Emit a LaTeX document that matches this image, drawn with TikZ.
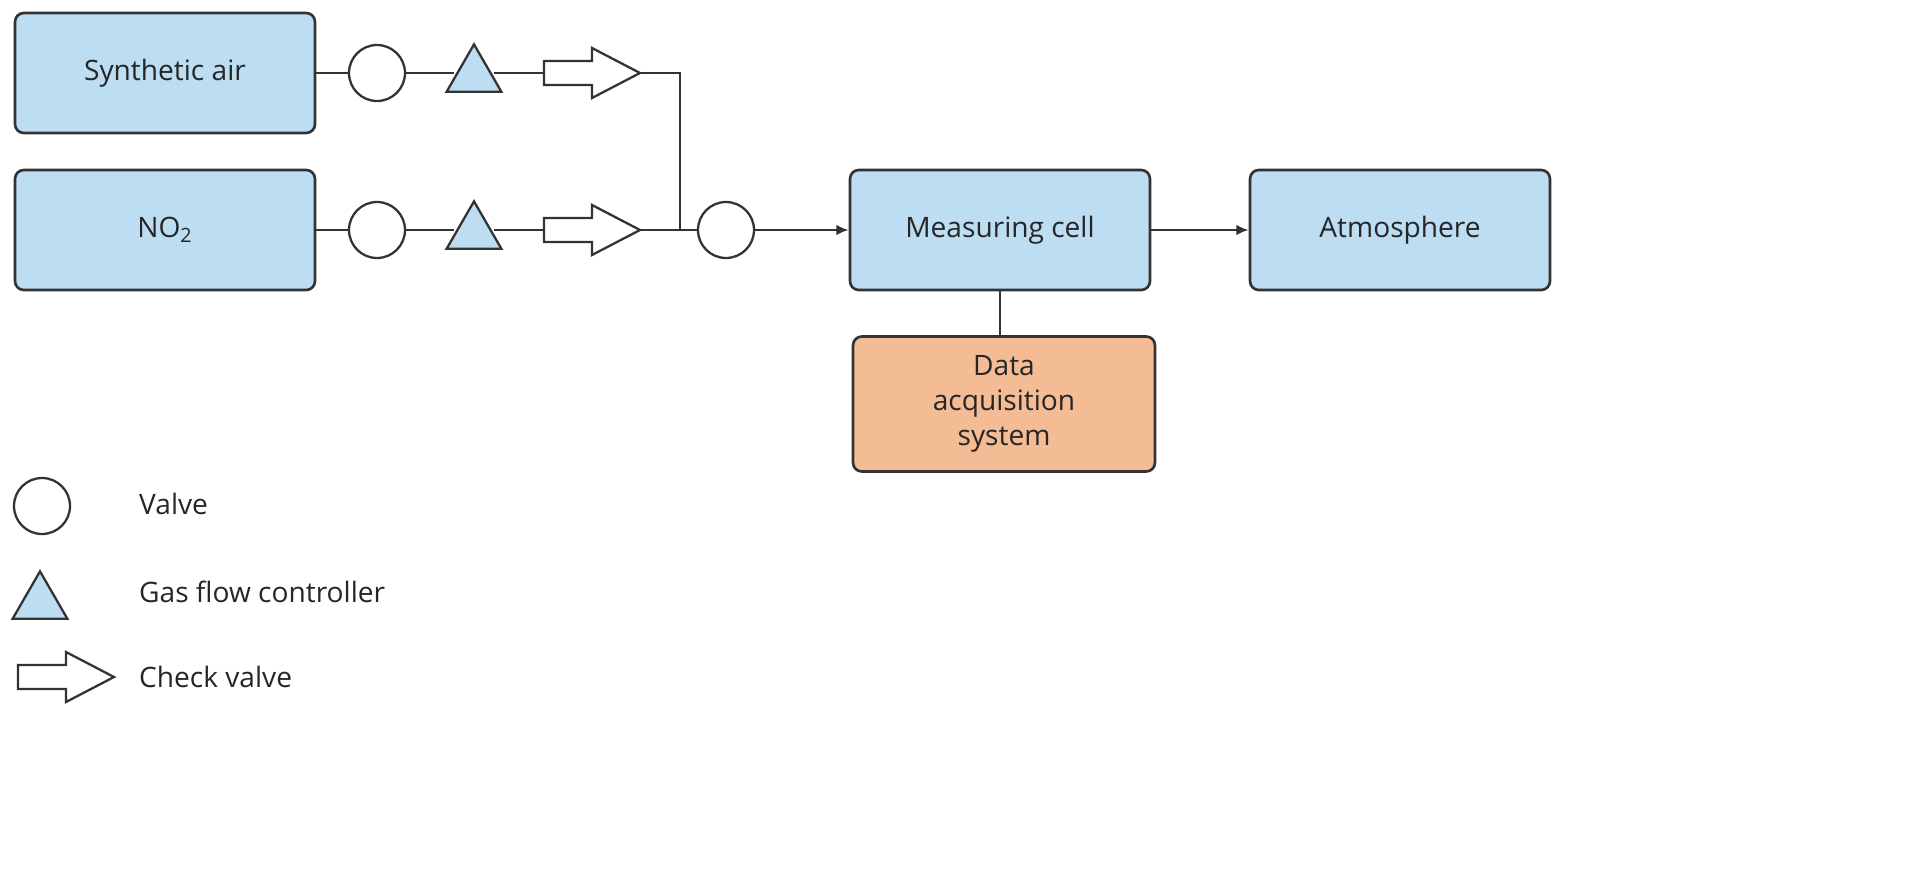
\documentclass[tikz,border=0pt]{standalone}
\usepackage{fontspec}
\setmainfont{Open Sans}
\usetikzlibrary{arrows.meta,shapes.geometric}
\definecolor{bfill}{HTML}{BDDDF3}
\definecolor{ofill}{HTML}{F4BC94}
\definecolor{edge}{HTML}{333333}
\begin{document}
\begin{tikzpicture}[x=0.02cm,y=-0.02cm,
  box/.style={draw=edge,line width=1.5pt,fill=bfill,rounded corners=5pt,minimum width=6cm,minimum height=2.4cm,font=\fontsize{16}{20}\selectfont,align=center,text=black!85},
  valve/.style={circle,draw=edge,line width=1.3pt,fill=white,minimum size=1.12cm,inner sep=0},
  gfc/.style={isosceles triangle,isosceles triangle apex angle=60,shape border rotate=90,draw=edge,line width=1.3pt,fill=bfill,minimum height=0.95cm,inner sep=0},
  ln/.style={draw=edge,line width=1.3pt},
  arr/.style={ln,-{Latex[length=7pt,width=6pt]}},
  lab/.style={font=\fontsize{16}{20}\selectfont,anchor=west,text=black!85},
  cv/.pic={\draw[edge,line width=1.3pt,fill=white] (0,-12)--(48,-12)--(48,-25)--(96,0)--(48,25)--(48,12)--(0,12)--cycle;}]
\useasboundingbox (0,0) rectangle (1910,876);
\node[box] (sa) at (165,73) {Synthetic air};
\node[box] (no) at (165,230) {NO\textsubscript{2}};
\node[box] (mc) at (1000,230) {Measuring cell};
\node[box] (at) at (1400,230) {Atmosphere};
\node[box,fill=ofill,minimum width=6.04cm,minimum height=2.7cm] (da) at (1004,404) {Data\\acquisition\\system};
\node[valve] (v1) at (377,73) {};
\node[valve] (v2) at (377,230) {};
\node[valve] (v3) at (726,230) {};
\node[gfc] (g1) at (474,76) {};
\node[gfc] (g2) at (474,233) {};
\coordinate (c1s) at (544,73); \coordinate (c1e) at (640,73);
\coordinate (c2s) at (544,230); \coordinate (c2e) at (640,230);
\coordinate (j1) at (680,73); \coordinate (j2) at (680,230);
\draw[ln] (sa.east)--(v1.west) (v1.east)--(g1.west|-v1) (g1.east|-v1)--(c1s);
\draw[ln] (no.east)--(v2.west) (v2.east)--(g2.west|-v2) (g2.east|-v2)--(c2s);
\draw[ln] (c1e)--(j1)--(j2) (c2e)--(v3.west);
\draw[arr] (v3.east)--(mc.west);
\draw[arr] (mc.east)--(at.west);
\draw[ln] (mc.south-|1000,290)--(da.north-|1000,337);
\pic at (c1s) {cv};
\pic at (c2s) {cv};
% legend
\node[valve] (lv) at (42,506) {};
\node[gfc] (lg) at (40,603) {};
\pic at (18,677) {cv};
\node[lab] (t1) at (133,504) {Valve};
\node[lab] (t2) at (133,592) {Gas flow controller};
\node[lab] (t3) at (133,677) {Check valve};
\end{tikzpicture}
\end{document}
